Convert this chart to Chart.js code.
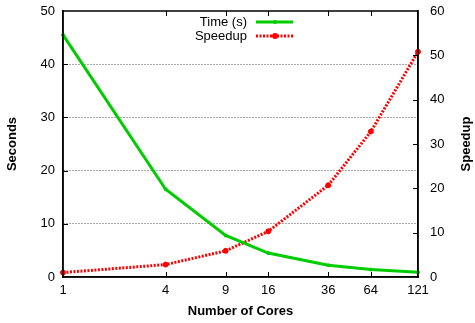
<!DOCTYPE html>
<html>
<head>
<meta charset="utf-8">
<script src="https://cdn.jsdelivr.net/npm/chart.js@4/dist/chart.umd.min.js"></script>
<style>
  html, body { margin: 0; padding: 0; background: #fff; }
  #wrap { position: relative; width: 475px; height: 323px; }
</style>
</head>
<body>
<div id="wrap"><canvas id="chart"></canvas></div>
<script>
// data
const cores     = [1, 4, 9, 16, 36, 64, 121];
const timeSec   = [45.5, 16.5, 7.8, 4.5, 2.2, 1.39, 0.9];
const speedup   = [1, 2.8, 5.9, 10.3, 20.7, 32.8, 50.8];
const secTicks  = [0, 10, 20, 30, 40, 50];
const spdTicks  = [0, 10, 20, 30, 40, 50, 60];

const FONT = "'Liberation Sans', Arial, Helvetica, sans-serif";
const GREEN = '#00cc00';
const RED   = '#ff0000';

// frame, inward ticks, legend, right title
const framePlugin = {
  id: 'frame',
  afterDraw(chart) {
    const { ctx, chartArea: a, scales } = chart;
    ctx.save();
    ctx.strokeStyle = '#000';
    ctx.lineWidth = 1.5;
    ctx.strokeRect(a.left, a.top, a.right - a.left, a.bottom - a.top);

    ctx.lineWidth = 1;
    const tl = 5;
    ctx.beginPath();
    cores.slice(1, -1).forEach(v => {
      const px = Math.round(scales.x.getPixelForValue(v)) + 0.5;
      ctx.moveTo(px, a.bottom); ctx.lineTo(px, a.bottom - tl);
      ctx.moveTo(px, a.top);    ctx.lineTo(px, a.top + tl);
    });
    spdTicks.slice(1, -1).forEach(v => {
      const py = Math.round(scales.y2.getPixelForValue(v)) + 0.5;
      ctx.moveTo(a.right, py); ctx.lineTo(a.right - tl, py);
    });
    secTicks.slice(1, -1).forEach(v => {
      const py = Math.round(scales.y.getPixelForValue(v)) + 0.5;
      ctx.moveTo(a.left, py); ctx.lineTo(a.left + tl, py);
    });
    ctx.stroke();

    // legend (text left of sample, gnuplot style)
    ctx.font = '13px ' + FONT;
    ctx.textAlign = 'right';
    ctx.textBaseline = 'middle';
    ctx.fillStyle = '#000';
    chart.data.datasets.forEach((ds, i) => {
      const y = 22 + i * 14;
      ctx.fillText(ds.label, 247, y);
      ctx.strokeStyle = ds.borderColor;
      ctx.lineWidth = ds.borderWidth;
      ctx.setLineDash(ds.borderDash || []);
      ctx.beginPath();
      ctx.moveTo(256, y); ctx.lineTo(293, y);
      ctx.stroke();
      ctx.setLineDash([]);
      ctx.fillStyle = ds.borderColor;
      ctx.beginPath();
      ctx.arc(275, y, ds.pointRadius + 0.5, 0, Math.PI * 2);
      ctx.fill();
      ctx.fillStyle = '#000';
    });

    // right axis title reads bottom-to-top
    ctx.font = 'bold 13px ' + FONT;
    ctx.textAlign = 'center';
    ctx.translate(466, (a.top + a.bottom) / 2);
    ctx.rotate(-Math.PI / 2);
    ctx.fillText('Speedup', 0, 0);
    ctx.restore();
  }
};

const noPad = s => { s.paddingTop = 0; s.paddingBottom = 0; };

new Chart(document.getElementById('chart'), {
  type: 'line',
  data: {
    labels: cores,
    datasets: [
      {
        label: 'Time (s)',
        data: cores.map((c, i) => ({ x: c, y: timeSec[i] })),
        yAxisID: 'y',
        borderColor: GREEN,
        backgroundColor: GREEN,
        borderWidth: 3,
        pointRadius: 1.5,
        pointBorderWidth: 1,
        pointHoverRadius: 1.5,
        tension: 0,
        clip: false,
      },
      {
        label: 'Speedup',
        data: cores.map((c, i) => ({ x: c, y: speedup[i] })),
        yAxisID: 'y2',
        borderColor: RED,
        backgroundColor: RED,
        borderWidth: 3,
        borderDash: [2, 1.5],
        pointRadius: 2.5,
        pointBorderWidth: 1,
        pointHoverRadius: 2.5,
        tension: 0,
        clip: false,
      },
    ],
  },
  options: {
    responsive: true, maintainAspectRatio: false,
    animation: false,
    layout: { padding: { top: 11, left: 0, right: 0, bottom: 0 } },
    plugins: { legend: { display: false }, tooltip: { enabled: false } },
    scales: {
      x: {
        type: 'logarithmic',
        min: 1, max: 121,
        afterBuildTicks: s => { s.ticks = cores.map(v => ({ value: v })); },
        afterFit: s => { s.height = 46; s.paddingLeft = 0; s.paddingRight = 0; },
        grid: { display: false, drawTicks: false },
        border: { color: '#000', width: 1.5 },
        ticks: {
          autoSkip: false, maxRotation: 0, padding: 6,
          color: '#000', font: { family: FONT, size: 13 },
          callback: v => String(v),
        },
        title: {
          display: true, text: 'Number of Cores', color: '#000',
          font: { family: FONT, size: 13, weight: 'bold' },
          padding: { top: 0, bottom: 4 },
        },
      },
      y: {
        position: 'left',
        min: 0, max: 50,
        afterFit: s => { s.width = 63; noPad(s); },
        afterBuildTicks: s => { s.ticks = secTicks.map(v => ({ value: v })); },
        grid: {
          drawTicks: false,
          color: ctx => (ctx.tick && (ctx.tick.value === 0 || ctx.tick.value === 50)) ? 'rgba(0,0,0,0)' : '#555',
          lineWidth: 1,
        },
        border: { color: '#000', width: 1.5, dash: [1, 2] },
        ticks: { padding: 8, color: '#000', font: { family: FONT, size: 13 } },
        title: {
          display: true, text: 'Seconds', color: '#000',
          font: { family: FONT, size: 13, weight: 'bold' },
          padding: { top: 5, bottom: 0 },
        },
      },
      y2: {
        position: 'right',
        min: 0, max: 60,
        afterFit: s => { s.width = 57; noPad(s); },
        afterBuildTicks: s => { s.ticks = spdTicks.map(v => ({ value: v })); },
        grid: { drawOnChartArea: false, drawTicks: false },
        border: { color: '#000', width: 1.5 },
        ticks: { padding: 12, color: '#000', font: { family: FONT, size: 13 } },
      },
    },
  },
  plugins: [framePlugin],
});
</script>
</body>
</html>
